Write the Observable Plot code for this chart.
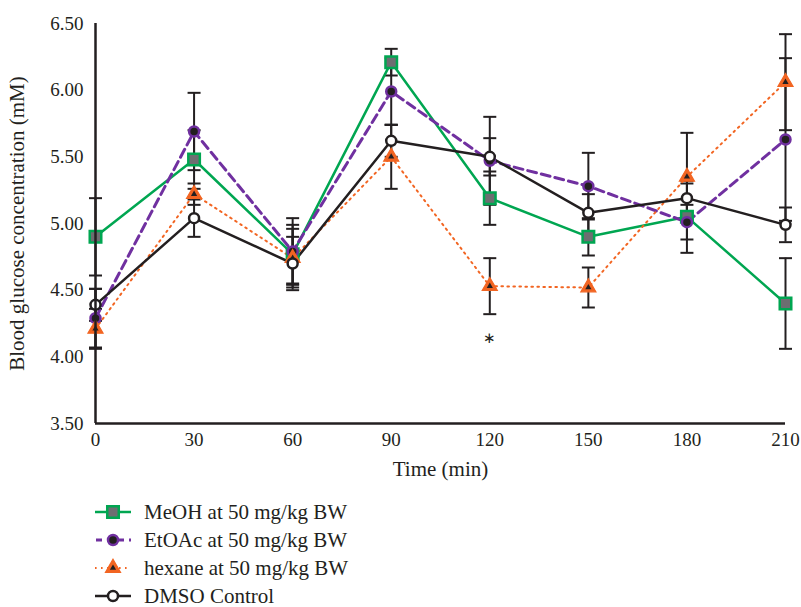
<!DOCTYPE html>
<html>
<head>
<meta charset="utf-8">
<script src="https://cdn.jsdelivr.net/npm/d3@7"></script>
<script src="https://cdn.jsdelivr.net/npm/@observablehq/plot@0.6"></script>
<style>
  html, body { margin: 0; padding: 0; background: #fff; }
  body { width: 801px; height: 607px; overflow: hidden; font-family: "Liberation Serif", "DejaVu Serif", serif; color: #231f20; }
  #legend { padding-left: 95px; margin-top: 0px; }
  .row { height: 28px; display: flex; align-items: center; font-size: 21px; }
  .row svg { margin-right: 13px; overflow: visible; }
</style>
</head>
<body>
<div id="chart"></div>
<div id="legend"></div>
<script>
// ---- data ----
const times = [0, 30, 60, 90, 120, 150, 180, 210];
const seriesNames = ["MeOH at 50 mg/kg BW", "EtOAc at 50 mg/kg BW", "hexane at 50 mg/kg BW", "DMSO Control"];
const meohMean  = [4.90, 5.48, 4.77, 6.21, 5.19, 4.90, 5.05, 4.40];
const meohErr   = [0.29, 0.22, 0.22, 0.10, 0.20, 0.14, 0.27, 0.34];
const etoacMean = [4.29, 5.69, 4.79, 5.99, 5.47, 5.28, 5.01, 5.63];
const etoacErr  = [0.22, 0.29, 0.25, 0.25, 0.33, 0.25, 0.13, 0.61];
const hexMean   = [4.21, 5.22, 4.74, 5.50, 4.53, 4.52, 5.35, 6.06];
const hexErr    = [0.15, 0.08, 0.22, 0.24, 0.21, 0.15, 0.33, 0.36];
const dmsoMean  = [4.39, 5.04, 4.70, 5.62, 5.50, 5.08, 5.19, 4.99];
const dmsoErr   = [0.12, 0.14, 0.20, 0.12, 0.14, 0.14, 0.11, 0.13];
const xTicks = [0, 30, 60, 90, 120, 150, 180, 210];
const yTicks = [3.5, 4.0, 4.5, 5.0, 5.5, 6.0, 6.5];
const sigTime = [120];
const sigValue = [4.14];

// ---- styles ----
const ink = "#231f20";
const styles = [
  {stroke: "#00a651", width: 2.5, dash: null,    symbol: "square",   r: 6.5, fill: "#6d6e71", mstroke: "#00a651", msw: 2.5},
  {stroke: "#7030a0", width: 3,   dash: "9,5",   symbol: "circle",   r: 5,   fill: ink,       mstroke: "#7030a0", msw: 2.5},
  {stroke: "#f26522", width: 2,   dash: "1.6,4.4", symbol: "triangle", r: 5.6, fill: "#f26522", mstroke: "#f26522", msw: 1.2, inner: true},
  {stroke: ink,       width: 2.5, dash: null,    symbol: "circle",   r: 5,   fill: "#ffffff", mstroke: ink,       msw: 2.5}
];

const means = [meohMean, etoacMean, hexMean, dmsoMean];
const errs = [meohErr, etoacErr, hexErr, dmsoErr];
const tables = means.map((m, s) => times.map((t, i) => ({t, v: m[i], lo: m[i] - errs[s][i], hi: m[i] + errs[s][i]})));
const allRows = tables.flat();

const capSymbol = {draw(ctx) { ctx.moveTo(-6.5, 0); ctx.lineTo(6.5, 0); }};

const marks = [];
// error bars
marks.push(Plot.ruleX(allRows, {x: "t", y1: "lo", y2: "hi", stroke: ink, strokeWidth: 2}));
marks.push(Plot.dot(allRows, {x: "t", y: "lo", symbol: capSymbol, stroke: ink, strokeWidth: 2, fill: "none"}));
marks.push(Plot.dot(allRows, {x: "t", y: "hi", symbol: capSymbol, stroke: ink, strokeWidth: 2, fill: "none"}));
// lines + markers
tables.forEach((rows, s) => {
  const st = styles[s];
  marks.push(Plot.line(rows, {x: "t", y: "v", stroke: st.stroke, strokeWidth: st.width, strokeDasharray: st.dash ?? undefined, strokeLinejoin: "miter"}));
});
tables.forEach((rows, s) => {
  const st = styles[s];
  marks.push(Plot.dot(rows, {x: "t", y: "v", symbol: st.symbol, r: st.r, fill: st.fill, stroke: st.mstroke, strokeWidth: st.msw}));
  if (st.inner) marks.push(Plot.dot(rows, {x: "t", y: "v", symbol: "triangle", r: 2.3, fill: ink, stroke: "none"}));
});
// significance mark
marks.push(Plot.text(sigTime.map((t, i) => ({t, v: sigValue[i]})), {x: "t", y: "v", text: () => "∗", fontSize: 15, fill: ink}));
// axes
marks.push(Plot.axisX({ticks: xTicks, tickSize: 0, tickPadding: 9, fontSize: 19, label: "Time (min)", labelAnchor: "center", labelArrow: "none", labelOffset: 52}));
marks.push(Plot.axisY({ticks: yTicks, tickSize: 0, tickPadding: 12, fontSize: 19, tickFormat: d3.format(".2f"), label: "Blood glucose concentration (mM)", labelAnchor: "center", labelArrow: "none", labelOffset: 86}));
marks.push(Plot.ruleX([0], {stroke: ink, strokeWidth: 2.5}));
marks.push(Plot.ruleY([3.5], {stroke: ink, strokeWidth: 2.5}));

const chart = Plot.plot({
  width: 801,
  height: 498,
  marginLeft: 95,
  marginRight: 16,
  marginTop: 23,
  marginBottom: 75,
  style: {fontFamily: "'Liberation Serif', serif", fontSize: "19px", color: ink, background: "#fff", overflow: "visible"},
  x: {domain: [0, 210]},
  y: {domain: [3.5, 6.5]},
  marks
});
chart.querySelectorAll("[aria-label='x-axis label'] text, [aria-label='y-axis label'] text").forEach(t => t.setAttribute("font-size", "21"));
document.getElementById("chart").appendChild(chart);

// ---- legend ----
const legend = d3.select("#legend");
seriesNames.forEach((name, s) => {
  const st = styles[s];
  const row = legend.append("div").attr("class", "row");
  const svg = row.append("svg").attr("width", 36).attr("height", 20);
  svg.append("line").attr("x1", 0).attr("x2", 36).attr("y1", 10).attr("y2", 10)
    .attr("stroke", st.stroke).attr("stroke-width", st.width)
    .attr("stroke-dasharray", st.dash ? (s === 1 ? "6,5" : "1.6,4.4") : null)
    .attr("stroke-dashoffset", s === 1 ? -1 : 0);
  const sym = {square: d3.symbolSquare, circle: d3.symbolCircle, triangle: d3.symbolTriangle}[st.symbol];
  svg.append("path").attr("transform", "translate(18,10)")
    .attr("d", d3.symbol(sym, Math.PI * st.r * st.r)())
    .attr("fill", st.fill).attr("stroke", st.mstroke).attr("stroke-width", st.msw);
  if (st.inner) svg.append("path").attr("transform", "translate(18,10)")
    .attr("d", d3.symbol(d3.symbolTriangle, Math.PI * 2.3 * 2.3)()).attr("fill", ink);
  row.append("span").text(name);
});
</script>
</body>
</html>
